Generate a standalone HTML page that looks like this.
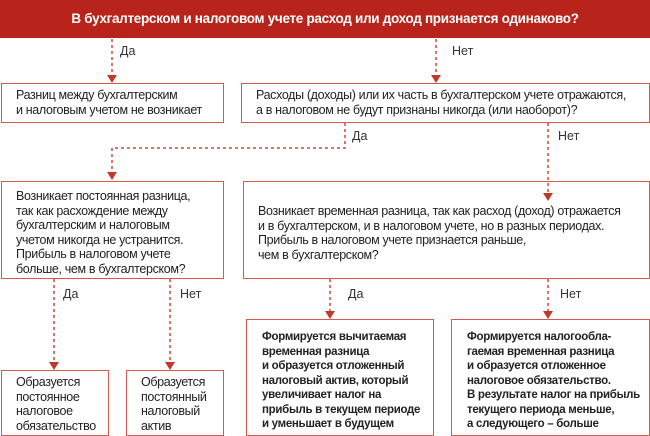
<!DOCTYPE html><html><head><meta charset="utf-8"><style>
body{margin:0;width:650px;height:436px;background:#fff;position:relative;overflow:hidden;font-family:"Liberation Sans","DejaVu Sans",sans-serif;color:#222}
.h{position:absolute;left:0;top:0;width:650px;height:38px;background:#b8241b;color:#fff;font-weight:bold;font-size:13.5px;line-height:38px;text-align:center;letter-spacing:-0.3px}
.b{position:absolute;border:1.5px solid #d9574c;box-sizing:border-box;font-size:12.5px;line-height:14.5px;letter-spacing:-0.35px;padding-left:14px}
.bd{font-weight:bold;font-size:11.5px;letter-spacing:-0.3px}
.l{position:absolute;font-size:12.5px;color:#333}
svg{position:absolute;left:0;top:0}
</style></head><body>
<div class="h">В бухгалтерском и налоговом учете расход или доход признается одинаково?</div>
<svg width="650" height="436">
<g stroke="#d0473c" stroke-width="1.5" stroke-dasharray="3,3" fill="none">
<path d="M112 39V76"/><path d="M436 39V76"/>
<path d="M345 123V148H112V173"/><path d="M548 123V193"/>
<path d="M54 279V363"/><path d="M170 279V363"/>
<path d="M330 279V312"/><path d="M548 279V312"/>
</g>
<g fill="#c0392b">
<path d="M107 75h10l-5 8z"/><path d="M431 75h10l-5 8z"/>
<path d="M107 172h10l-5 8z"/><path d="M543 193h10l-5 8z"/>
<path d="M49 362h10l-5 8z"/><path d="M165 362h10l-5 8z"/>
<path d="M325 311h10l-5 8z"/><path d="M543 311h10l-5 8z"/>
</g></svg>
<div class="l" style="left:120px;top:44px">Да</div>
<div class="l" style="left:452px;top:44px">Нет</div>
<div class="l" style="left:352px;top:129px">Да</div>
<div class="l" style="left:558px;top:129px">Нет</div>
<div class="l" style="left:63px;top:287px">Да</div>
<div class="l" style="left:180px;top:287px">Нет</div>
<div class="l" style="left:348px;top:287px">Да</div>
<div class="l" style="left:560px;top:287px">Нет</div>
<div class="b" style="left:1px;top:83px;width:223px;height:40px;padding-top:4px">Разниц между бухгалтерским<br>и налоговым учетом не возникает</div>
<div class="b" style="left:241px;top:83px;width:409px;height:40px;padding-top:4px">Расходы (доходы) или их часть в бухгалтерском учете отражаются,<br>а в налоговом не будут признаны никогда (или наоборот)?</div>
<div class="b" style="left:1px;top:181px;width:223px;height:98px;padding-top:7px">Возникает постоянная разница,<br>так как расхождение между<br>бухгалтерским и налоговым<br>учетом никогда не устранится.<br>Прибыль в налоговом учете<br>больше, чем в бухгалтерском?</div>
<div class="b" style="left:243px;top:181px;width:407px;height:98px;padding-top:22px">Возникает временная разница, так как расход (доход) отражается<br>и в бухгалтерском, и в налоговом учете, но в разных периодах.<br>Прибыль в налоговом учете признается раньше,<br>чем в бухгалтерском?</div>
<div class="b" style="left:1px;top:370px;width:108px;height:66px;padding-top:4px;padding-left:14px">Образуется<br>постоянное<br>налоговое<br>обязательство</div>
<div class="b" style="left:126px;top:370px;width:98px;height:66px;padding-top:4px;padding-left:14px">Образуется<br>постоянный<br>налоговый<br>актив</div>
<div class="b bd" style="left:246px;top:319px;width:188px;height:117px;padding-top:10px;padding-left:15px">Формируется вычитаемая<br>временная разница<br>и образуется отложенный<br>налоговый актив, который<br>увеличивает налог на<br>прибыль в текущем периоде<br>и уменьшает в будущем</div>
<div class="b bd" style="left:451px;top:319px;width:199px;height:117px;padding-top:10px;padding-left:15px">Формируется налогообла-<br>гаемая временная разница<br>и образуется отложенное<br>налоговое обязательство.<br>В результате налог на прибыль<br>текущего периода меньше,<br>а следующего – больше</div>
</body></html>
